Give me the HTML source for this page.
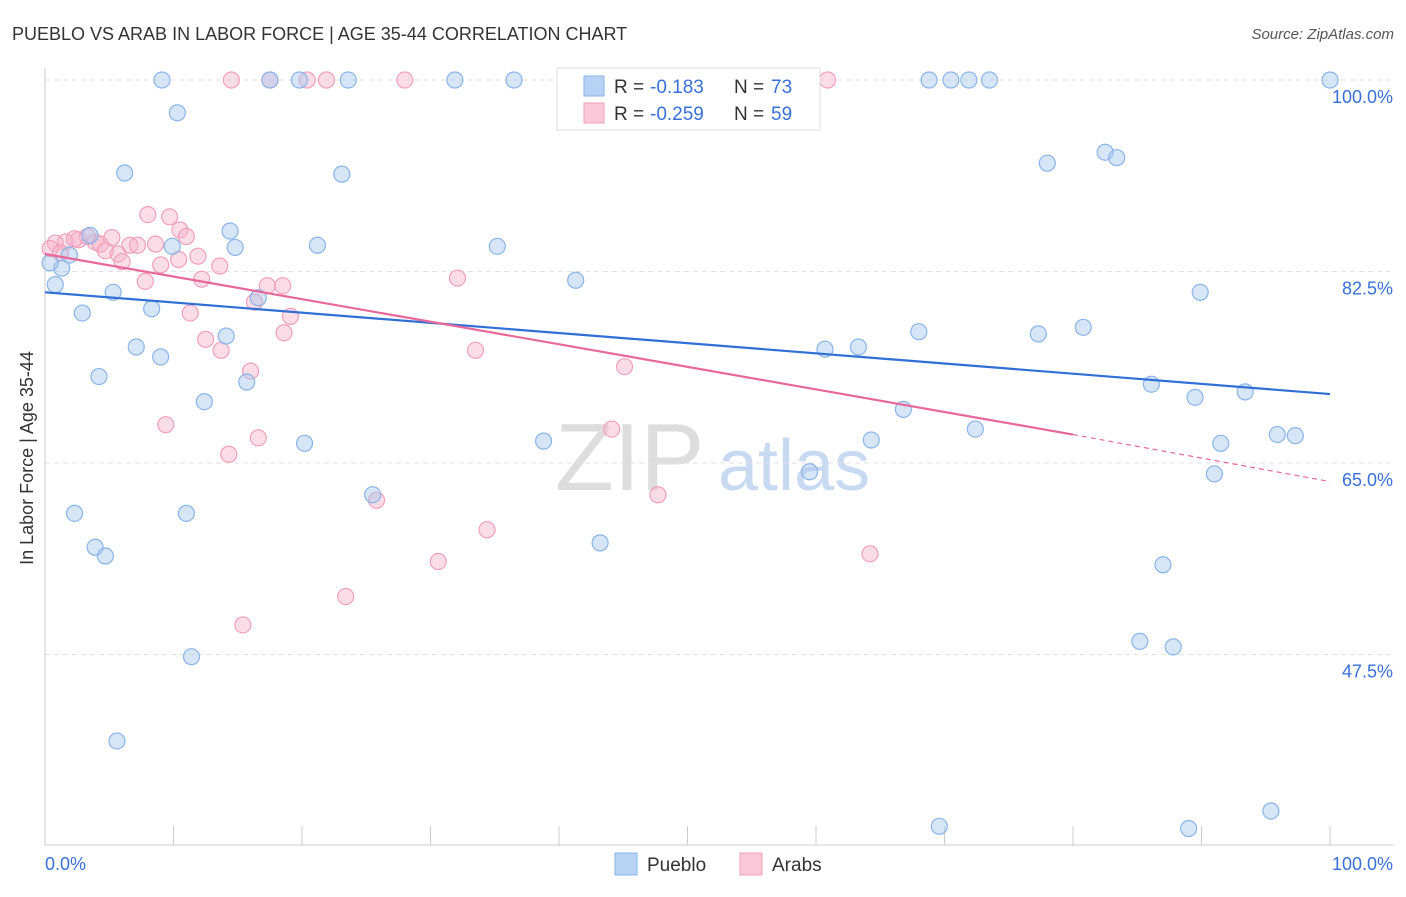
<!DOCTYPE html>
<html><head><meta charset="utf-8"><style>
body{margin:0;background:#fff;font-family:"Liberation Sans",sans-serif}
svg text{font-family:"Liberation Sans",sans-serif}
</style></head><body>
<svg id="c" width="1406" height="892">
<text x="12" y="40" font-size="18" fill="#333">PUEBLO VS ARAB IN LABOR FORCE | AGE 35-44 CORRELATION CHART</text>
<text x="1394" y="39" font-size="15" fill="#555" text-anchor="end" font-style="italic">Source: ZipAtlas.com</text>
<text x="33" y="458" font-size="18" fill="#333" text-anchor="middle" transform="rotate(-90 33 458)">In Labor Force | Age 35-44</text>
<g><text x="555" y="490" font-size="96" fill="#ddd" font-family="Liberation Serif">ZIP</text><text x="718" y="490" font-size="72" fill="#c8daf2">atlas</text></g>
<g id="grid"></g><g id="pts"></g><g id="lines"></g>
<g>
<rect x="557" y="68" width="263" height="62" fill="#fff" stroke="#ddd"/>
<rect x="584" y="76" width="20" height="20" fill="#b8d2f4" stroke="#8ab4e8"/>
<rect x="584" y="103" width="20" height="20" fill="#fac8d8" stroke="#f0a0b8"/>
<text x="614" y="93" font-size="19" fill="#333">R =</text><text x="650" y="93" font-size="19" fill="#3a6fd8">-0.183</text>
<text x="734" y="93" font-size="19" fill="#333">N =</text><text x="771" y="93" font-size="19" fill="#3a6fd8">73</text>
<text x="614" y="120" font-size="19" fill="#333">R =</text><text x="650" y="120" font-size="19" fill="#3a6fd8">-0.259</text>
<text x="734" y="120" font-size="19" fill="#333">N =</text><text x="771" y="120" font-size="19" fill="#3a6fd8">59</text>
</g>
<g>
<rect x="615" y="853" width="22" height="22" fill="#b8d2f4" stroke="#8ab4e8"/><text x="647" y="871" font-size="19" fill="#333">Pueblo</text>
<rect x="740" y="853" width="22" height="22" fill="#fac8d8" stroke="#f0a0b8"/><text x="772" y="871" font-size="19" fill="#333">Arabs</text>
</g>
</svg>
<script>
const yTicks=[100,82.5,65,47.5];
const yTickLabels=["100.0%","82.5%","65.0%","47.5%"];
const xTickLabels=["0.0%","100.0%"];
const puebloX=[9.1,17.5,19.8,23.6,31.9,36.5,45.7,68.8,70.5,71.9,73.5,100,10.3,6.2,23.1,78,82.5,83.4,14.4,3.5,9.9,14.8,21.2,35.2,1.9,1.3,0.4,0.8,41.3,5.3,2.9,8.3,16.6,89.9,14.1,7.1,9,60.7,63.3,68,77.3,80.8,4.2,15.7,86.1,89.5,93.4,12.4,66.8,20.2,38.8,64.3,72.4,91.5,95.9,97.3,59.5,91,25.5,2.3,11,3.9,4.7,43.2,87,85.2,87.8,11.4,5.6,95.4,69.6,89];
const puebloY=[100,100,100,100,100,100,100,100,100,100,100,100,97,91.5,91.4,92.4,93.4,92.9,86.2,85.8,84.8,84.7,84.9,84.8,84,82.8,83.3,81.3,81.7,80.6,78.7,79.1,80.1,80.6,76.6,75.6,74.7,75.4,75.6,77,76.8,77.4,72.9,72.4,72.2,71,71.5,70.6,69.9,66.8,67,67.1,68.1,66.8,67.6,67.5,64.2,64,62.1,60.4,60.4,57.3,56.5,57.7,55.7,48.7,48.2,47.3,39.6,33.2,31.8,31.6];
const arabX=[14.5,17.5,20.4,21.9,28,47.1,60.9,8,9.7,10.5,11,0.8,1.6,2.6,3.9,4.3,5.2,6.6,7.2,8.6,4.7,5.7,6,9,10.4,11.9,13.6,7.8,12.2,17.3,18.5,32.1,16.3,11.3,19.1,18.6,12.5,13.7,33.5,45.1,16,9.4,16.6,14.3,44.1,47.7,25.8,34.4,30.6,64.2,23.4,15.4,0.4,1.2,3.3,2.3];
const arabY=[100,100,100,100,100,100,100,87.7,87.5,86.3,85.7,85.1,85.2,85.4,85.2,85,85.6,84.9,84.9,85,84.4,84.1,83.4,83.1,83.6,83.9,83,81.6,81.8,81.2,81.2,81.9,79.7,78.7,78.4,76.9,76.3,75.3,75.3,73.8,73.4,68.5,67.3,65.8,68.1,62.1,61.6,58.9,56,56.7,52.8,50.2,84.6,84.2,85.7,85.5];
const puebloLine=[80.6,71.3];
const arabLine=[84.1,67.6,63.3];
const W="http://www.w3.org/2000/svg";
const X=v=>45+v*12.85, Y=v=>80+(100-v)*10.943;
const grid=document.getElementById('grid'),pts=document.getElementById('pts'),lines=document.getElementById('lines');
function mk(tag,a,p){const e=document.createElementNS(W,tag);for(const k in a)e.setAttribute(k,a[k]);p.appendChild(e);return e;}
yTicks.forEach((t,i)=>{
 const g=mk('line',{x1:45,x2:1393,y1:Y(t),y2:Y(t),stroke:'#e2e2e2','stroke-dasharray':'5,4'},grid);
 
 
 const tx=mk('text',{x:1393,y:Y(t)+23,'font-size':18,fill:'#3a6fd8','text-anchor':'end'},grid);
 tx.textContent=yTickLabels[i];
 
 
});
const ax=mk('line',{x1:45,x2:1393,y1:845,y2:845,stroke:'#ccc'},grid);


const ay=mk('line',{x1:45,x2:45,y1:68,y2:845,stroke:'#ccc'},grid);


for(let i=0;i<=10;i++){
 const t=mk('line',{x1:X(i*10),x2:X(i*10),y1:826,y2:845,stroke:'#ccc'},grid);
 
 
}
[[0,'start',45],[100,'end',1393]].forEach((d,i)=>{
 const t=mk('text',{x:d[2],y:870,'font-size':18,fill:'#3a6fd8','text-anchor':d[1]},grid);
 t.textContent=xTickLabels[i];
 
 
});
arabX.forEach((v,i)=>{
 if(arabY[i]===undefined)return;
 const c=mk('circle',{cx:X(v),cy:Y(arabY[i]),r:8,fill:'rgba(248,180,202,0.45)',stroke:'#f0a0b8','stroke-width':1.2},pts);
 
 
});
puebloX.forEach((v,i)=>{
 if(puebloY[i]===undefined)return;
 const c=mk('circle',{cx:X(v),cy:Y(puebloY[i]),r:8,fill:'rgba(165,198,240,0.45)',stroke:'#8ab4e8','stroke-width':1.2},pts);
 
 
});
const bl=mk('line',{x1:X(0),y1:Y(puebloLine[0]),x2:X(100),y2:Y(puebloLine[1]),stroke:'#2f6fd6','stroke-width':2.2},lines);


const pl=mk('line',{x1:X(0),y1:Y(arabLine[0]),x2:X(80),y2:Y(arabLine[1]),stroke:'#e8689a','stroke-width':2.2},lines);


const pd=mk('line',{x1:X(80),y1:Y(arabLine[1]),x2:X(100),y2:Y(arabLine[2]),stroke:'#e8689a','stroke-width':1.2,'stroke-dasharray':'5,4'},lines);


</script>
</body></html>
